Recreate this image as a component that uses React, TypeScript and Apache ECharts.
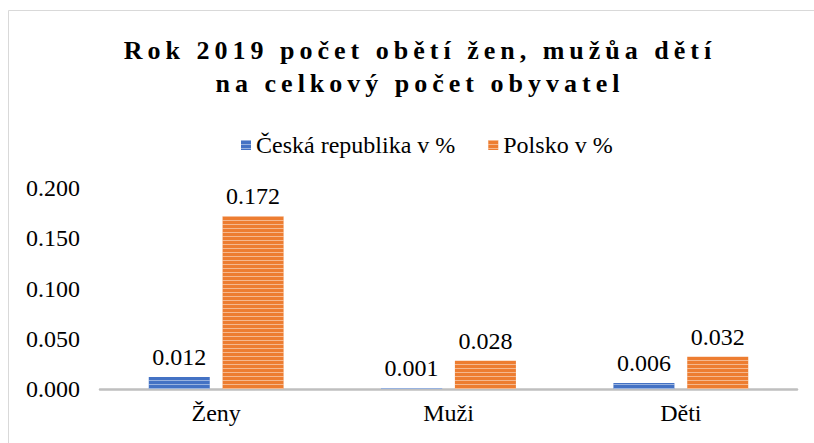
import React, { useEffect, useRef } from "react";
import * as echarts from "echarts";

const titleLines = ["Rok 2019 počet obětí žen, mužůa dětí", "na celkový počet obyvatel"];
const categories = ["Ženy", "Muži", "Děti"];
const seriesNames = ["Česká republika v %", "Polsko v %"];
const czValues = [0.012, 0.001, 0.006];
const plValues = [0.172, 0.028, 0.032];
const yTicks = { min: 0, max: 0.2, interval: 0.05 };

const FONT = "Liberation Serif";

export default function App() {
  const ref = useRef<HTMLDivElement>(null);
  useEffect(() => {
    if (!ref.current) return;
    document.body.style.margin = "0";
    const chart = echarts.init(ref.current, null, { renderer: "svg" });
    const decal = {
      symbol: "rect",
      symbolSize: 1,
      dashArrayX: [1, 0],
      dashArrayY: [1, 3],
      rotation: 0,
      color: "rgba(255,255,255,0.45)",
    };
    const labelCfg = {
      show: true,
      position: "top",
      distance: 8,
      fontFamily: FONT,
      fontSize: 24,
      color: "#000",
      formatter: (p: any) => Number(p.value).toFixed(3),
    };
    chart.setOption({
      animation: false,
      textStyle: { fontFamily: FONT },
      graphic: [
        {
          type: "rect",
          silent: true,
          shape: { x: 8.5, y: 10.5, width: 830, height: 460 },
          style: { fill: "none", stroke: "#d9d9d9", lineWidth: 1 },
        },
        {
          type: "text",
          x: 420,
          y: 50,
          style: {
            text: titleLines[0],
            fontFamily: FONT,
            fontWeight: "bold",
            fontSize: 26,
            fill: "#000",
            textAlign: "center",
            textVerticalAlign: "middle",
          },
        },
        {
          type: "text",
          x: 420,
          y: 83,
          style: {
            text: titleLines[1],
            fontFamily: FONT,
            fontWeight: "bold",
            fontSize: 26,
            fill: "#000",
            textAlign: "center",
            textVerticalAlign: "middle",
          },
        },
      ],
      legend: {
        left: 236,
        top: 128,
        itemWidth: 10,
        itemHeight: 10,
        itemGap: 33,
        icon: "rect",
        textStyle: { fontFamily: FONT, fontSize: 24, color: "#000" },
        data: seriesNames,
      },
      grid: { left: 100, right: 17, top: 188, bottom: 54 },
      xAxis: {
        type: "category",
        data: categories,
        axisLine: { lineStyle: { color: "#bfbfbf", width: 2.5 } },
        axisTick: { show: false },
        axisLabel: { fontFamily: FONT, fontSize: 24, color: "#000", margin: 12 },
      },
      yAxis: {
        type: "value",
        min: yTicks.min,
        max: yTicks.max,
        interval: yTicks.interval,
        splitLine: { show: false },
        axisLine: { show: false },
        axisTick: { show: false },
        axisLabel: {
          fontFamily: FONT,
          fontSize: 24,
          color: "#000",
          margin: 20,
          formatter: (v: number) => v.toFixed(3),
        },
      },
      series: [
        {
          name: seriesNames[0],
          type: "bar",
          data: czValues,
          barWidth: 61,
          barGap: "21%",
          itemStyle: { color: "#4472C4", decal },
          label: labelCfg,
        },
        {
          name: seriesNames[1],
          type: "bar",
          data: plValues,
          barWidth: 61,
          barGap: "21%",
          itemStyle: { color: "#ED7D31", decal },
          label: labelCfg,
        },
      ],
    });
    ref.current.querySelectorAll("text").forEach((t) => {
      const el = t as SVGTextElement;
      if ((el.getAttribute("style") || "").indexOf("bold") >= 0) {
        el.style.letterSpacing = "5px";
      }
    });
    return () => chart.dispose();
  }, []);
  return <div ref={ref} style={{ width: 814, height: 443, background: "#fff" }} />;
}
